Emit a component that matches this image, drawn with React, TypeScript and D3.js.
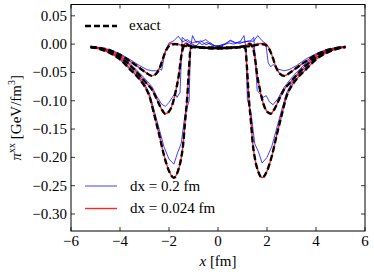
import * as d3 from "d3";

type Pt = [number, number];

const xTicks = [-6, -4, -2, 0, 2, 4, 6];
const yTicks = [0.05, 0, -0.05, -0.1, -0.15, -0.2, -0.25, -0.3];

// exact solution, three profiles (shallow, middle, deep)
const exactC: Pt[] = [
  [-5.2, -0.005], [-4.8, -0.007], [-4.4, -0.011], [-4.0, -0.019], [-3.6, -0.030], [-3.2, -0.042],
  [-2.95, -0.050], [-2.7, -0.056], [-2.52, -0.052], [-2.37, -0.041], [-2.22, -0.022], [-2.08, -0.008],
  [-1.9, -0.001], [-1.75, 0.0], [-1.5, -0.002], [-1.2, -0.004], [-0.6, -0.006], [0, -0.006],
  [0.6, -0.006], [1.2, -0.004], [1.5, -0.002], [1.75, 0.0], [1.9, -0.001], [2.08, -0.008],
  [2.22, -0.022], [2.37, -0.041], [2.52, -0.052], [2.7, -0.056], [2.95, -0.050], [3.2, -0.042],
  [3.6, -0.030], [4.0, -0.019], [4.4, -0.011], [4.8, -0.007], [5.2, -0.005],
];
const exactB: Pt[] = [
  [-5.2, -0.005], [-4.8, -0.008], [-4.4, -0.014], [-4.0, -0.023], [-3.6, -0.037], [-3.2, -0.055],
  [-2.9, -0.070], [-2.7, -0.080], [-2.5, -0.097], [-2.3, -0.115], [-2.15, -0.123], [-2.0, -0.119],
  [-1.85, -0.105], [-1.72, -0.082], [-1.6, -0.055], [-1.5, -0.022], [-1.42, -0.006], [-1.3, 0.0],
  [-1.15, -0.003], [-0.6, -0.006], [0, -0.007], [0.6, -0.006], [1.15, -0.003], [1.3, 0.0],
  [1.42, -0.006], [1.5, -0.022], [1.6, -0.055], [1.72, -0.082], [1.85, -0.105], [2.0, -0.119],
  [2.15, -0.123], [2.3, -0.115], [2.5, -0.097], [2.7, -0.080], [2.9, -0.070], [3.2, -0.055],
  [3.6, -0.037], [4.0, -0.023], [4.4, -0.014], [4.8, -0.008], [5.2, -0.005],
];
const exactA: Pt[] = [
  [-5.2, -0.005], [-4.8, -0.009], [-4.4, -0.016], [-4.0, -0.027], [-3.6, -0.044], [-3.2, -0.062],
  [-3.0, -0.074], [-2.8, -0.092], [-2.6, -0.125], [-2.4, -0.160], [-2.2, -0.197], [-2.0, -0.224],
  [-1.8, -0.236], [-1.65, -0.226], [-1.52, -0.205], [-1.42, -0.176], [-1.35, -0.140], [-1.25, -0.090],
  [-1.18, -0.040], [-1.12, -0.008], [-1.0, -0.005], [-0.5, -0.007], [0, -0.008], [0.5, -0.007],
  [1.0, -0.005], [1.12, -0.008], [1.18, -0.040], [1.25, -0.090], [1.35, -0.140], [1.42, -0.176],
  [1.52, -0.205], [1.65, -0.226], [1.8, -0.236], [2.0, -0.224], [2.2, -0.197], [2.4, -0.160],
  [2.6, -0.125], [2.8, -0.092], [3.0, -0.074], [3.2, -0.062], [3.6, -0.044], [4.0, -0.027],
  [4.4, -0.016], [4.8, -0.009], [5.2, -0.005],
];

// dx = 0.024 fm
const fineC: Pt[] = [
  [-5.2, -0.005], [-4.8, -0.007], [-4.4, -0.011], [-4.0, -0.019], [-3.6, -0.030], [-3.2, -0.042],
  [-2.95, -0.050], [-2.7, -0.056], [-2.52, -0.052], [-2.37, -0.041], [-2.22, -0.022], [-2.08, -0.007],
  [-1.9, 0.001], [-1.75, 0.001], [-1.5, -0.002], [-1.2, -0.004], [-0.6, -0.006], [0, -0.006],
  [0.6, -0.006], [1.2, -0.004], [1.5, -0.002], [1.75, 0.001], [1.9, 0.001], [2.08, -0.007],
  [2.22, -0.022], [2.37, -0.041], [2.52, -0.052], [2.7, -0.056], [2.95, -0.050], [3.2, -0.042],
  [3.6, -0.030], [4.0, -0.019], [4.4, -0.011], [4.8, -0.007], [5.2, -0.005],
];
const fineB: Pt[] = [
  [-5.2, -0.005], [-4.8, -0.008], [-4.4, -0.014], [-4.0, -0.023], [-3.6, -0.037], [-3.2, -0.055],
  [-2.9, -0.070], [-2.7, -0.080], [-2.5, -0.097], [-2.3, -0.115], [-2.15, -0.123], [-2.0, -0.119],
  [-1.85, -0.105], [-1.72, -0.082], [-1.6, -0.055], [-1.5, -0.021], [-1.42, -0.004], [-1.3, 0.002],
  [-1.15, -0.002], [-0.6, -0.006], [0, -0.007], [0.6, -0.006], [1.15, -0.002], [1.3, 0.002],
  [1.42, -0.004], [1.5, -0.021], [1.6, -0.055], [1.72, -0.082], [1.85, -0.105], [2.0, -0.119],
  [2.15, -0.123], [2.3, -0.115], [2.5, -0.097], [2.7, -0.080], [2.9, -0.070], [3.2, -0.055],
  [3.6, -0.037], [4.0, -0.023], [4.4, -0.014], [4.8, -0.008], [5.2, -0.005],
];
const fineA: Pt[] = [
  [-5.2, -0.005], [-4.8, -0.009], [-4.4, -0.016], [-4.0, -0.027], [-3.6, -0.044], [-3.2, -0.062],
  [-3.0, -0.074], [-2.8, -0.092], [-2.6, -0.125], [-2.4, -0.160], [-2.2, -0.197], [-2.0, -0.224],
  [-1.8, -0.236], [-1.65, -0.226], [-1.52, -0.205], [-1.42, -0.176], [-1.35, -0.140], [-1.25, -0.090],
  [-1.18, -0.040], [-1.12, -0.006], [-1.0, -0.004], [-0.5, -0.007], [0, -0.008], [0.5, -0.007],
  [1.0, -0.004], [1.12, -0.006], [1.18, -0.040], [1.25, -0.090], [1.35, -0.140], [1.42, -0.176],
  [1.52, -0.205], [1.65, -0.226], [1.8, -0.236], [2.0, -0.224], [2.2, -0.197], [2.4, -0.160],
  [2.6, -0.125], [2.8, -0.092], [3.0, -0.074], [3.2, -0.062], [3.6, -0.044], [4.0, -0.027],
  [4.4, -0.016], [4.8, -0.009], [5.2, -0.005],
];

// dx = 0.2 fm
const coarseC: Pt[] = [
  [-5.2, -0.004], [-4.8, -0.006], [-4.4, -0.010], [-4.0, -0.017], [-3.6, -0.027], [-3.2, -0.038],
  [-2.9, -0.045], [-2.7, -0.047], [-2.5, -0.047], [-2.4, -0.043], [-2.3, -0.046], [-2.15, -0.012],
  [-2.0, 0.002], [-1.8, 0.006], [-1.62, 0.014], [-1.45, 0.004], [-1.25, 0.008], [-1.05, 0.002],
  [-0.85, 0.005], [-0.65, -0.001], [-0.45, 0.003], [-0.25, -0.002], [0, -0.003], [0.25, -0.001],
  [0.45, 0.002], [0.65, 0.0], [0.85, 0.004], [1.05, 0.003], [1.25, 0.006], [1.45, 0.005],
  [1.62, 0.015], [1.8, 0.006], [1.95, 0.001], [2.05, -0.033], [2.15, -0.040], [2.25, -0.036],
  [2.45, -0.044], [2.7, -0.047], [2.9, -0.045], [3.2, -0.038], [3.6, -0.026], [4.0, -0.017],
  [4.4, -0.010], [4.8, -0.006], [5.2, -0.004],
];
const coarseB: Pt[] = [
  [-5.2, -0.004], [-4.8, -0.007], [-4.4, -0.012], [-4.0, -0.021], [-3.6, -0.034], [-3.2, -0.051],
  [-2.9, -0.065], [-2.7, -0.075], [-2.5, -0.092], [-2.3, -0.106], [-2.15, -0.110], [-2.0, -0.103],
  [-1.85, -0.093], [-1.75, -0.087], [-1.67, -0.094], [-1.55, -0.085], [-1.5, -0.030], [-1.46, 0.012],
  [-1.3, 0.006], [-1.1, 0.001], [-0.9, -0.003], [-0.7, 0.004], [-0.5, 0.008], [-0.3, 0.001],
  [-0.1, -0.004], [0.1, -0.004], [0.3, 0.0], [0.5, 0.007], [0.7, 0.003], [0.9, 0.001],
  [1.1, 0.005], [1.3, 0.004], [1.46, 0.012], [1.52, -0.025], [1.6, -0.082], [1.72, -0.088],
  [1.84, -0.094], [1.97, -0.091], [2.1, -0.102], [2.25, -0.107], [2.45, -0.096], [2.7, -0.076],
  [2.9, -0.065], [3.2, -0.050], [3.6, -0.033], [4.0, -0.020], [4.4, -0.012], [4.8, -0.007],
  [5.2, -0.004],
];
const coarseA: Pt[] = [
  [-5.2, -0.004], [-4.8, -0.008], [-4.4, -0.014], [-4.0, -0.025], [-3.6, -0.041], [-3.2, -0.058],
  [-3.0, -0.070], [-2.8, -0.087], [-2.6, -0.118], [-2.4, -0.150], [-2.2, -0.182], [-2.0, -0.203],
  [-1.8, -0.212], [-1.65, -0.192], [-1.5, -0.175], [-1.35, -0.125], [-1.18, -0.100], [-1.12, -0.005],
  [-1.04, 0.015], [-0.9, 0.003], [-0.7, 0.006], [-0.5, -0.001], [-0.3, 0.002], [-0.1, -0.004],
  [0.1, -0.002], [0.3, 0.001], [0.5, 0.006], [0.7, 0.002], [0.9, 0.004], [1.06, 0.015],
  [1.14, -0.006], [1.2, -0.098], [1.35, -0.122], [1.5, -0.176], [1.65, -0.190], [1.8, -0.210],
  [2.0, -0.200], [2.2, -0.180], [2.4, -0.148], [2.6, -0.116], [2.8, -0.086], [3.0, -0.069],
  [3.2, -0.057], [3.6, -0.040], [4.0, -0.024], [4.4, -0.013], [4.8, -0.007], [5.2, -0.004],
];

const W = 374;
const H = 275;
const plot = { left: 71, right: 365, top: 4.5, bottom: 231 };
const FONT = "Liberation Serif, Times New Roman, Times, serif";

const fmtY = (v: number) => {
  const s = Math.abs(v).toFixed(2);
  return v < -1e-9 ? "\u2212" + s : s;
};
const fmtX = (v: number) => (v < 0 ? "\u2212" + Math.abs(v) : String(v));

export default function App() {
  const x = d3.scaleLinear().domain([-6, 6]).range([plot.left, plot.right]);
  const y = d3.scaleLinear().domain([-0.33, 0.07]).range([plot.bottom, plot.top]);

  const smooth = d3.line<Pt>().x((d) => x(d[0])).y((d) => y(d[1])).curve(d3.curveMonotoneX);
  const straight = d3.line<Pt>().x((d) => x(d[0])).y((d) => y(d[1]));

  const tickLen = 4;

  return (
    <div style={{ position: "absolute", left: 0, top: 0 }}>
      <svg width={W} height={H} style={{ display: "block", background: "#fff", fontFamily: FONT }}>
        <defs>
          <clipPath id="plotclip">
            <rect x={plot.left} y={plot.top} width={plot.right - plot.left} height={plot.bottom - plot.top} />
          </clipPath>
        </defs>

        <g clipPath="url(#plotclip)" fill="none">
          {[coarseC, coarseB, coarseA].map((s, i) => (
            <path key={"b" + i} d={straight(s) ?? ""} stroke="#0000ff" strokeOpacity={0.75} strokeWidth={1} />
          ))}
          {[fineC, fineB, fineA].map((s, i) => (
            <path key={"r" + i} d={smooth(s) ?? ""} stroke="#ff0000" strokeOpacity={0.85} strokeWidth={1.4} />
          ))}
          {[exactC, exactB, exactA].map((s, i) => (
            <path key={"e" + i} d={smooth(s) ?? ""} stroke="#000" strokeWidth={2.4} strokeDasharray="6 3" />
          ))}
        </g>

        {/* frame */}
        <rect
          x={plot.left}
          y={plot.top}
          width={plot.right - plot.left}
          height={plot.bottom - plot.top}
          fill="none"
          stroke="#000"
          strokeWidth={1}
        />

        {/* ticks, inward on all sides */}
        <g stroke="#000" strokeWidth={0.8}>
          {xTicks.map((t) => (
            <g key={"xt" + t}>
              <line x1={x(t)} x2={x(t)} y1={plot.bottom} y2={plot.bottom - tickLen} />
              <line x1={x(t)} x2={x(t)} y1={plot.top} y2={plot.top + tickLen} />
            </g>
          ))}
          {yTicks.map((t) => (
            <g key={"yt" + t}>
              <line x1={plot.left} x2={plot.left + tickLen} y1={y(t)} y2={y(t)} />
              <line x1={plot.right} x2={plot.right - tickLen} y1={y(t)} y2={y(t)} />
            </g>
          ))}
        </g>

        <g fontFamily={FONT} fontSize={15} fill="#000">
          {xTicks.map((t) => (
            <text key={"xl" + t} x={x(t)} y={plot.bottom + 15} textAnchor="middle">
              {fmtX(t)}
            </text>
          ))}
          {yTicks.map((t) => (
            <text key={"yl" + t} x={plot.left - 4} y={y(t) + 5} textAnchor="end">
              {fmtY(t)}
            </text>
          ))}

          <text x={x(0)} y={266} textAnchor="middle">
            <tspan fontStyle="italic">x</tspan>
            <tspan> [fm]</tspan>
          </text>

          <text transform={`translate(21,${(plot.top + plot.bottom) / 2}) rotate(-90)`} textAnchor="middle">
            <tspan fontStyle="italic">π</tspan>
            <tspan fontSize={10} dy={-6}>xx</tspan>
            <tspan dy={6}> [GeV/fm</tspan>
            <tspan fontSize={10} dy={-6}>3</tspan>
            <tspan dy={6}>]</tspan>
          </text>

          {/* legend: exact */}
          <line x1={85} x2={117} y1={26} y2={26} stroke="#000" strokeWidth={2.4} strokeDasharray="6 3" />
          <text x={129} y={30}>exact</text>

          {/* legend: resolutions */}
          <line x1={85} x2={117} y1={186} y2={186} stroke="#0000ff" strokeOpacity={0.75} strokeWidth={1} />
          <text x={130} y={191}>dx = 0.2 fm</text>
          <line x1={85} x2={117} y1={208.5} y2={208.5} stroke="#ff0000" strokeOpacity={0.85} strokeWidth={1.4} />
          <text x={130} y={213}>dx = 0.024 fm</text>
        </g>
      </svg>
    </div>
  );
}
